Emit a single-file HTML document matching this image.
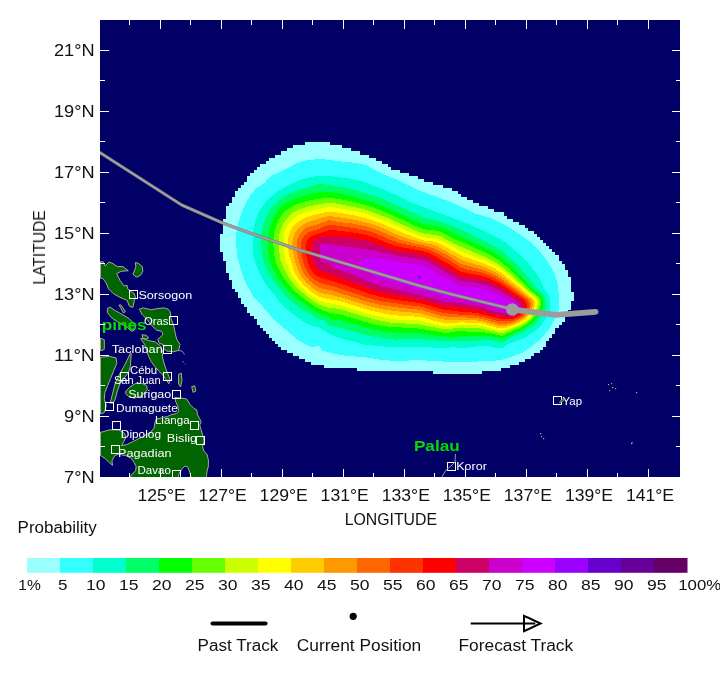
<!DOCTYPE html>
<html><head><meta charset="utf-8"><title>Strike probability</title><style>
html,body{margin:0;padding:0;background:#fff;}
body{width:720px;height:687px;overflow:hidden;position:relative;}
svg{position:absolute;left:0;top:0;display:block;will-change:transform;}
text{font-family:"Liberation Sans",sans-serif;}
</style></head><body>
<svg width="720" height="687" viewBox="0 0 720 687">
<defs><clipPath id="pc"><rect x="100" y="20" width="580" height="457"/></clipPath></defs>
<rect x="100" y="20" width="580" height="457" fill="#000066"/>
<g clip-path="url(#pc)">
<g shape-rendering="crispEdges"><path fill="#99ffff" d="M305.38,142.32H329.77V145.38H305.38ZM293.18,145.37H341.97V148.42H293.18ZM287.08,148.42H351.12V151.47H287.08ZM280.98,151.47H360.27V154.53H280.98ZM274.88,154.53H369.42V157.58H274.88ZM268.77,157.57H375.52V160.62H268.77ZM265.73,160.62H381.62V163.67H265.73ZM259.62,163.67H387.72V166.72H259.62ZM256.58,166.72H390.77V169.78H256.58ZM253.52,169.78H399.92V172.83H253.52ZM250.47,172.82H409.07V175.88H250.47ZM247.42,175.87H418.22V178.92H247.42ZM247.42,178.92H424.32V181.97H247.42ZM244.37,181.97H433.47V185.03H244.37ZM241.32,185.03H442.62V188.08H241.32ZM238.27,188.07H451.77V191.12H238.27ZM235.22,191.12H457.87V194.17H235.22ZM235.22,194.17H460.92V197.22H235.22ZM232.17,197.22H467.02V200.28H232.17ZM232.17,200.28H473.12V203.33H232.17ZM229.12,203.32H479.22V206.37H229.12ZM226.07,206.37H488.37V209.42H226.07ZM226.07,209.42H494.47V212.47H226.07ZM226.07,212.47H503.62V215.53H226.07ZM226.07,215.53H506.67V218.58H226.07ZM223.03,218.57H512.77V221.62H223.03ZM223.03,221.62H518.87V224.67H223.03ZM223.03,224.67H524.98V227.72H223.03ZM223.03,227.72H528.02V230.78H223.03ZM223.03,230.78H534.12V233.83H223.03ZM219.97,233.82H537.17V236.87H219.97ZM219.97,236.87H540.23V239.92H219.97ZM219.97,239.92H543.27V242.97H219.97ZM219.97,242.97H546.32V246.03H219.97ZM219.97,246.03H549.37V249.08H219.97ZM219.97,249.07H552.42V252.12H219.97ZM223.03,252.12H555.48V255.17H223.03ZM223.03,255.17H558.52V258.22H223.03ZM223.03,258.23H558.52V261.27H223.03ZM226.07,261.28H561.57V264.32H226.07ZM226.07,264.32H564.62V267.37H226.07ZM226.07,267.38H564.62V270.42H226.07ZM226.07,270.43H567.67V273.47H226.07ZM229.12,273.48H567.67V276.52H229.12ZM229.12,276.53H570.73V279.57H229.12ZM232.17,279.57H570.73V282.62H232.17ZM232.17,282.62H570.73V285.67H232.17ZM232.17,285.68H570.73V288.72H232.17ZM235.22,288.73H570.73V291.77H235.22ZM238.27,291.78H573.77V294.82H238.27ZM238.27,294.82H573.77V297.87H238.27ZM241.32,297.88H573.77V300.92H241.32ZM241.32,300.93H570.73V303.97H241.32ZM244.37,303.98H570.73V307.02H244.37ZM247.42,307.03H570.73V310.07H247.42ZM247.42,310.08H567.67V313.12H247.42ZM250.47,313.12H567.67V316.17H250.47ZM253.52,316.18H564.62V319.22H253.52ZM256.58,319.23H564.62V322.27H256.58ZM256.58,322.28H561.57V325.32H256.58ZM259.62,325.33H558.52V328.38H259.62ZM262.68,328.38H555.48V331.42H262.68ZM265.73,331.43H555.48V334.47H265.73ZM268.77,334.48H552.42V337.52H268.77ZM271.83,337.53H549.37V340.57H271.83ZM274.88,340.57H546.32V343.62H274.88ZM277.93,343.62H546.32V346.67H277.93ZM280.98,346.68H543.27V349.72H280.98ZM287.08,349.73H540.23V352.77H287.08ZM293.18,352.78H534.12V355.82H293.18ZM299.27,355.82H531.07V358.87H299.27ZM305.38,358.88H524.98V361.92H305.38ZM311.48,361.93H518.87V364.97H311.48ZM323.68,364.98H509.72V368.02H323.68ZM357.23,368.03H500.57V371.07H357.23ZM433.48,371.07H482.27V374.12H433.48Z"/>
<path fill="#33ffff" d="M477.5,361.5 492.5,361.0 503.4,359.5 507.5,358.4 522.6,352.5 533.0,345.5 542.5,337.2 550.1,327.5 557.7,313.5 559.4,307.5 559.0,296.5 557.6,283.5 555.0,275.5 550.0,265.5 544.5,257.0 535.4,246.5 526.0,238.5 507.5,226.5 490.5,218.0 475.5,213.5 451.5,202.3 420.5,191.0 396.5,179.5 383.7,174.5 366.7,165.5 357.5,163.1 335.5,160.9 321.5,158.8 308.5,160.0 301.5,161.4 295.5,163.7 285.5,169.5 272.5,175.4 267.4,179.5 263.5,183.7 256.5,188.1 251.5,193.9 246.0,202.5 242.3,210.5 238.7,221.5 236.3,233.5 236.0,238.5 236.8,254.5 242.1,273.5 246.4,284.5 250.5,290.5 253.1,296.5 260.5,304.1 274.0,319.5 297.3,339.5 304.5,344.0 310.5,346.9 313.5,346.9 318.5,345.5 319.5,346.0 321.2,349.5 322.5,350.6 334.5,353.9 346.5,355.9 365.5,357.2 379.5,359.5 394.5,361.1 418.5,360.1 451.5,362.0 470.5,362.1Z"/>
<path fill="#00ffcc" d="M502.9,347.5 508.5,343.7 524.5,337.9 535.5,330.7 541.5,324.6 545.6,318.5 549.5,311.2 550.5,305.5 549.8,297.5 549.1,295.5 543.6,287.5 539.5,278.0 532.5,268.1 526.5,261.1 513.2,248.5 506.5,243.1 499.5,238.6 483.5,230.9 461.5,221.2 411.5,202.6 385.5,190.2 361.5,181.1 346.5,178.1 327.5,176.0 319.5,175.8 310.5,176.9 301.5,179.6 286.5,186.0 277.3,191.5 266.9,200.5 260.3,209.5 257.4,215.5 254.9,222.5 253.3,229.5 252.6,235.5 253.4,254.5 254.6,260.5 256.7,266.5 260.8,275.5 265.9,284.5 279.5,301.8 285.1,307.5 294.5,315.4 307.5,323.9 311.3,325.5 319.5,327.7 328.5,333.3 336.5,337.2 365.5,344.8 386.5,346.8 399.5,347.2 417.5,346.9 439.5,347.8 454.5,347.4 465.5,347.9 482.5,345.9 489.5,346.4 497.5,348.4 500.5,348.3Z"/>
<path fill="#00ff66" d="M501.6,342.5 515.4,335.5 523.5,332.1 533.5,325.6 538.5,320.5 542.1,315.5 545.5,309.5 546.2,305.5 545.5,298.5 544.5,296.0 535.9,287.5 520.1,267.5 504.5,252.8 494.5,246.0 460.5,229.1 442.5,222.2 423.5,217.5 379.5,197.7 351.5,189.0 331.5,185.2 321.5,184.1 316.5,184.6 303.5,188.4 289.5,193.8 282.5,197.5 277.5,201.3 272.5,206.9 268.2,213.5 265.4,219.5 263.0,226.5 261.5,233.5 260.9,239.5 261.0,244.5 263.0,259.5 265.5,266.8 274.1,282.5 286.5,296.9 291.5,301.5 299.5,307.5 310.5,314.3 316.5,318.6 319.5,319.9 324.5,320.6 328.5,324.7 331.5,326.3 338.5,327.5 369.5,335.9 391.5,339.3 395.5,339.6 416.5,338.9 439.5,340.8 456.5,341.3 471.5,341.0 487.5,339.9 494.5,340.5 499.5,342.6Z"/>
<path fill="#00ff00" d="M501.6,338.5 504.5,337.6 522.5,329.1 532.5,322.4 537.5,317.0 541.5,310.5 543.2,305.5 543.1,300.5 542.1,297.5 540.6,295.5 532.9,289.5 511.5,266.2 500.5,256.7 490.5,250.4 441.9,227.5 427.5,224.9 419.5,222.7 382.5,205.9 372.5,202.0 350.5,195.9 334.5,192.6 325.5,191.9 318.5,192.3 305.5,195.3 293.5,199.4 286.5,202.7 282.6,205.5 277.5,211.4 273.7,217.5 269.4,228.5 267.4,240.5 269.3,259.5 271.9,266.5 279.9,280.5 290.2,292.5 301.5,302.1 318.6,313.5 326.5,316.1 331.5,319.4 341.5,320.5 369.1,328.5 383.5,331.5 395.5,332.6 419.5,333.1 439.5,336.0 454.5,336.9 462.5,336.0 486.5,335.8 495.5,336.9Z"/>
<path fill="#66ff00" d="M502.9,335.5 521.5,327.3 527.5,323.7 531.5,320.5 536.0,315.5 539.0,310.5 541.0,304.5 541.0,300.5 540.3,298.5 538.7,296.5 531.0,290.5 507.5,267.2 498.5,260.0 489.5,254.7 463.5,242.5 454.5,239.3 441.5,232.0 437.5,230.8 426.5,229.7 421.9,228.5 412.5,224.8 394.5,216.1 373.5,207.4 358.5,203.0 341.5,199.3 330.5,197.9 325.5,197.9 310.5,200.1 299.5,203.1 292.5,206.2 286.2,210.5 281.5,215.5 277.9,221.5 274.3,231.5 273.1,241.5 274.6,257.5 275.9,262.5 277.9,267.5 284.8,279.5 294.1,290.5 305.5,300.2 319.5,309.1 329.5,312.8 340.5,314.5 373.5,324.2 383.5,326.3 420.5,328.7 444.5,332.8 449.5,332.7 456.5,331.2 480.5,331.9 491.5,333.5 500.5,335.7Z"/>
<path fill="#ccff00" d="M504.0,332.5 520.5,325.7 525.5,322.8 529.8,319.5 534.3,314.5 537.2,309.5 538.8,304.5 538.9,300.5 536.5,297.0 529.4,291.5 505.5,269.7 497.5,263.7 488.5,258.6 453.5,243.5 440.5,236.3 435.5,235.0 425.5,233.9 419.5,232.3 385.5,217.1 365.5,209.5 335.5,203.3 329.5,202.8 320.5,204.0 308.4,206.5 299.5,209.3 293.5,212.4 289.5,215.5 285.5,220.1 282.5,225.1 279.5,234.3 278.9,243.5 279.3,251.5 280.4,259.5 283.9,268.5 290.2,279.5 297.8,288.5 308.2,297.5 319.5,304.7 328.5,307.5 339.5,308.9 373.5,319.2 387.5,322.1 395.5,323.2 416.5,323.9 445.5,329.4 449.5,329.3 457.5,327.6 479.5,328.2 499.5,332.9Z"/>
<path fill="#ffff00" d="M503.3,330.5 518.5,325.0 523.5,322.3 528.5,318.7 532.4,314.5 534.9,310.5 536.8,305.5 537.2,301.5 536.4,299.5 534.7,297.5 504.5,272.0 496.5,266.3 488.5,262.0 464.0,252.5 439.5,239.5 434.5,238.4 425.5,237.4 418.9,235.5 407.5,231.0 383.5,220.1 366.5,214.0 357.5,211.7 337.5,207.8 330.5,207.2 324.5,207.7 310.5,210.8 302.5,213.4 296.5,216.4 292.5,219.5 289.0,223.5 286.2,228.5 284.7,232.5 283.6,237.5 283.5,247.5 285.1,258.5 288.9,269.5 293.9,278.5 300.4,286.5 309.5,294.6 318.5,300.4 324.5,302.5 340.5,305.2 365.5,313.3 389.5,318.7 396.0,319.5 418.5,320.4 439.5,325.5 446.5,326.6 458.5,325.1 479.1,325.5 498.5,330.5Z"/>
<path fill="#ffcc00" d="M507.0,327.5 519.5,322.8 524.5,319.9 528.5,316.5 532.4,311.5 534.6,306.5 535.2,302.5 534.1,299.5 504.5,275.1 495.5,268.9 485.5,264.1 463.5,256.6 439.5,243.5 433.5,241.6 424.5,240.5 413.5,237.0 402.5,232.8 382.5,223.8 370.5,219.5 355.5,215.6 333.5,211.9 327.5,211.9 323.5,212.5 311.5,215.6 304.5,218.2 299.5,220.9 295.5,224.0 292.5,227.5 290.2,231.5 288.2,238.5 288.0,247.5 289.5,256.5 293.8,270.5 298.3,278.5 304.2,285.5 312.3,292.5 319.5,296.7 324.5,298.2 340.5,301.2 368.5,310.1 388.5,314.4 396.5,315.4 420.5,316.9 437.5,321.7 445.5,323.3 449.5,323.4 460.5,322.4 477.5,322.8 482.5,323.6 498.5,328.1 502.5,328.3Z"/>
<path fill="#ff9900" d="M507.0,325.5 513.5,323.7 518.8,321.5 523.5,318.7 527.5,315.4 530.5,311.5 532.7,306.5 533.1,302.5 531.8,299.5 504.5,278.1 494.5,271.5 483.5,266.6 463.5,260.9 437.5,246.4 431.8,244.5 417.8,241.5 404.7,237.5 396.7,234.5 380.5,227.1 369.5,223.3 354.5,219.7 330.5,216.1 323.5,217.0 305.5,223.1 298.5,228.0 295.8,231.5 294.2,234.5 292.3,241.5 292.3,248.5 294.8,260.5 297.6,269.5 301.4,276.5 306.3,282.5 313.1,288.5 319.5,292.4 342.5,297.7 368.5,306.0 383.5,309.5 396.5,311.3 419.5,313.1 438.5,318.5 445.5,319.9 476.5,320.4 482.5,321.3 498.5,325.8 502.5,326.1Z"/>
<path fill="#ff6600" d="M507.5,323.5 513.5,322.0 518.5,320.0 522.7,317.5 526.5,314.2 529.2,310.5 530.8,306.5 531.0,302.5 529.3,299.5 504.5,280.9 494.5,274.5 483.5,269.8 461.5,264.2 448.5,256.0 434.4,248.5 427.5,246.3 413.5,243.3 399.5,239.5 377.5,230.0 365.5,226.1 352.5,223.6 336.5,221.7 330.5,220.3 326.5,220.7 318.5,224.0 306.7,227.5 301.5,231.7 297.9,237.5 296.6,243.5 296.7,250.5 299.3,262.5 301.7,269.5 305.2,275.5 309.5,280.6 314.5,284.8 320.5,288.1 332.5,290.7 367.5,301.8 381.5,305.2 402.5,308.1 420.5,309.8 437.5,314.9 444.5,316.4 475.5,317.9 483.5,319.3 498.5,323.6 502.5,324.0Z"/>
<path fill="#ff3300" d="M508.1,321.5 513.5,320.3 518.5,318.3 522.5,315.7 525.8,312.5 528.3,308.5 529.1,305.5 528.7,302.5 526.5,299.3 503.5,282.9 493.5,276.9 482.5,272.6 466.5,269.3 460.5,267.4 449.5,260.3 431.3,250.5 424.5,248.3 398.5,242.9 391.5,240.4 375.5,233.4 366.5,230.5 356.5,228.4 330.5,224.8 326.7,225.5 320.0,228.5 308.5,232.2 304.5,235.4 302.0,239.5 300.9,243.5 300.9,248.5 302.8,260.5 305.0,267.5 307.8,272.5 311.5,277.1 315.5,280.4 320.5,283.1 334.5,286.7 366.5,297.4 380.5,301.1 404.5,304.7 421.5,306.7 436.5,311.4 443.5,312.9 455.5,314.4 474.5,315.4 484.5,317.3 499.5,321.4Z"/>
<path fill="#ff0000" d="M507.7,319.5 512.5,318.7 517.5,316.9 521.3,314.5 524.3,311.5 526.1,308.5 526.8,305.5 526.1,302.5 523.6,299.5 503.5,285.8 493.5,280.0 482.5,275.8 465.5,272.8 461.5,271.5 456.5,269.1 449.5,264.2 440.5,259.6 434.1,255.5 427.5,252.4 422.5,251.0 396.5,246.3 373.5,237.2 365.5,234.7 356.5,233.0 332.5,230.0 327.5,230.5 312.7,235.5 308.5,238.5 305.9,242.5 305.4,246.5 306.8,258.5 308.8,265.5 310.9,269.5 313.5,272.8 316.5,275.5 320.5,277.8 334.5,281.6 368.5,293.5 380.5,296.9 394.5,299.6 421.5,303.5 442.5,309.4 455.5,311.2 476.5,312.9 500.5,319.0Z"/>
<path fill="#cc0066" d="M512.8,316.5 516.5,315.2 519.5,313.4 521.6,311.5 523.4,308.5 523.9,305.5 523.4,303.5 522.0,301.5 518.5,298.7 500.5,287.2 489.5,281.7 480.5,279.0 464.5,276.8 459.5,275.4 445.5,266.6 439.3,263.5 430.5,258.0 425.5,255.7 419.5,254.2 394.5,250.4 366.5,240.4 358.5,239.1 337.5,236.9 324.5,236.7 320.5,237.4 317.5,238.5 314.5,240.5 312.2,243.5 311.7,247.5 312.6,258.5 313.7,263.5 316.5,268.1 321.5,271.3 329.5,273.3 360.5,285.4 373.5,289.9 382.5,292.4 425.5,300.9 442.5,305.7 454.5,306.5 465.5,308.4 479.5,310.0 492.5,314.1 504.5,316.9 508.5,317.1Z"/>
<path fill="#cc00cc" d="M514.1,313.5 517.5,311.7 519.5,309.8 520.6,307.5 520.5,305.3 519.5,303.5 517.5,301.6 507.5,295.3 495.1,288.5 485.5,284.6 477.5,282.9 463.5,281.4 458.5,279.9 441.2,269.5 424.5,260.3 418.5,258.9 401.5,256.6 371.5,249.8 325.5,243.8 321.5,244.2 320.0,245.5 319.6,247.5 320.1,256.5 320.7,260.5 321.5,261.8 323.5,262.7 329.5,263.5 335.5,268.7 349.5,273.2 367.6,281.5 382.5,286.3 429.5,297.4 444.5,301.9 457.5,302.6 480.5,306.7 495.3,311.5 505.5,313.9 509.5,314.3Z"/>
<path fill="#cc00ff" d="M513.7,310.5 515.5,309.4 516.8,307.5 516.5,305.6 515.6,304.5 511.1,301.5 497.7,294.5 488.6,290.5 481.8,288.5 474.8,287.5 463.5,287.0 458.5,285.7 449.5,280.1 441.5,276.2 426.5,267.2 422.5,265.4 417.5,264.4 402.5,263.1 383.5,259.3 374.5,258.1 368.5,258.1 363.5,259.0 361.5,259.7 359.8,261.5 359.6,263.5 360.8,265.5 364.5,267.8 370.4,273.5 375.5,276.4 381.0,278.5 399.5,283.0 417.5,289.0 433.5,292.8 448.5,298.5 450.5,298.7 457.5,297.8 461.5,298.2 479.5,303.2 486.5,304.6 500.5,309.6 509.5,311.2Z"/>
<path fill="#9900ff" d="M420.8,278.5 421.3,277.5 420.5,275.8 418.5,275.3 417.5,276.0 417.3,277.5 418.1,278.5 419.5,279.0Z"/></g>
<g fill="#006400" stroke="#b0a4a4" stroke-width="1" stroke-linejoin="round"><path d="M100.0,262.0 103.0,261.5 105.0,266.0 109.0,262.0 113.1,263.7 117.2,266.6 123.0,266.6 128.3,270.7 121.3,271.3 116.6,273.6 120.1,280.6 124.2,285.9 127.1,285.3 127.7,288.8 130.6,291.1 134.1,293.4 135.3,296.9 134.1,301.6 132.9,307.4 129.4,306.2 127.1,300.4 119.0,296.9 113.1,293.4 108.5,288.8 106.2,283.0 102.7,278.3 100.5,278.3 100.5,262.0Z"/><path d="M135.3,262.6 138.2,263.2 142.3,266.6 142.8,271.3 140.5,275.4 136.4,277.1 132.9,274.2 134.7,270.1 135.8,266.6Z"/><path d="M139.4,309.2 143.3,307.9 151.2,309.8 157.8,308.5 164.3,307.9 168.2,309.2 170.2,311.8 170.9,318.3 173.5,324.9 175.4,334.1 176.7,339.3 180.0,344.5 178.7,350.4 173.5,351.7 166.9,351.1 163.6,348.5 163.0,344.5 159.1,343.2 157.8,339.3 163.0,334.7 161.7,331.4 156.4,330.1 151.2,324.9 147.3,319.7 142.0,314.4Z"/><path d="M140.7,338.6 144.7,344.5 146.6,351.1 148.6,356.3 151.2,361.6 155.1,366.8 159.1,371.4 163.0,375.3 166.3,379.9 168.9,383.8 170.2,379.9 168.2,374.7 165.6,368.1 163.6,361.6 162.3,356.3 163.0,352.4 160.4,345.9 155.1,341.9 148.6,340.6 143.3,338.6Z"/><path d="M142.0,334.7 146.6,335.4 148.6,338.0 146.0,339.3 142.7,338.0Z"/><path d="M107.4,308.3 110.5,307.3 114.7,310.4 118.8,312.5 124.0,315.6 129.3,318.8 132.4,321.9 135.5,326.0 134.5,330.2 131.3,331.3 127.2,327.1 120.9,324.0 114.7,319.8 110.5,316.7 107.4,312.5Z"/><path d="M119.0,305.0 121.0,305.0 125.5,311.5 123.5,313.0Z"/><path d="M100.5,338.3 100.8,338.3 104.3,339.7 104.3,349.4 100.8,350.8 100.5,350.8Z"/><path d="M100.5,357.1 102.2,357.1 109.1,356.4 116.0,357.8 116.8,363.3 113.3,371.7 110.5,378.6 107.7,385.6 104.9,392.5 104.3,399.4 106.3,405.6 104.3,412.5 100.8,413.9 100.5,413.9Z"/><path d="M130.5,353.2 124.4,365.5 120.4,372.6 115.3,382.8 113.2,391.0 111.2,399.0 110.2,403.1 113.2,403.1 115.3,399.0 117.3,391.0 120.4,382.8 125.0,377.0 128.5,372.6 130.5,365.5 131.2,353.2Z"/><path d="M125.8,391.1 130.0,386.9 135.5,383.5 142.4,383.5 146.6,385.6 147.3,389.7 143.8,393.9 139.7,396.7 134.1,398.1 128.6,396.7 125.8,393.9Z"/><path d="M178.6,374.4 181.3,373.1 182.0,380.0 180.6,386.9 178.6,384.2Z"/><path d="M191.7,386.6 194.6,385.8 196.0,390.9 193.1,392.4Z"/><path d="M174.9,397.5 182.2,398.2 186.6,398.9 190.2,404.7 193.9,408.4 196.8,409.8 197.5,414.9 199.7,418.6 201.1,422.2 199.7,425.1 201.1,429.5 202.6,435.3 204.0,441.1 202.6,447.0 204.0,451.3 207.0,454.2 208.4,460.1 208.4,465.9 207.0,471.7 206.2,478.0 191.0,478.0 190.4,474.0 188.0,467.3 185.1,465.9 182.2,468.8 179.3,473.2 177.8,478.0 130.0,478.0 131.3,475.0 135.5,470.8 136.2,466.7 134.1,462.5 131.3,458.3 125.8,455.6 118.8,454.2 114.7,455.6 111.9,461.1 112.6,465.3 109.1,462.5 104.9,458.3 100.8,455.6 100.5,455.6 100.5,432.0 102.2,432.0 109.1,429.9 118.8,429.9 124.4,433.3 125.8,437.5 123.7,441.7 121.6,445.8 127.2,444.4 132.7,441.7 138.3,438.9 143.8,436.1 150.8,432.0 154.3,427.8 154.6,423.7 156.0,419.3 161.8,417.8 167.7,416.4 170.6,414.9 176.4,413.5 178.6,411.3 177.8,406.2 175.7,401.8Z"/></g>
<path d="M99,152 181.7,205 223.3,223.3 253.3,234.2 280,243.3 290,247.1 330,259 420,285.9 450,293.9 506,307.6 512.3,309.5" fill="none" stroke="#7a7a7a" stroke-width="3.2" stroke-linejoin="round"/><path d="M99,152 181.7,205 223.3,223.3 253.3,234.2 280,243.3 290,247.1 330,259 420,285.9 450,293.9 506,307.6 512.3,309.5" fill="none" stroke="#a0a0a0" stroke-width="2" stroke-linejoin="round"/><path d="M512.3,309.5 530.6,311.8 545.8,313.6 556.5,314.9 595.5,311.8" fill="none" stroke="#9c9c9c" stroke-width="5.8" stroke-linecap="round" stroke-linejoin="round"/><circle cx="512.3" cy="309.5" r="6.3" fill="#9c9c9c"/>
<g fill="none" stroke="#fff" stroke-width="1" shape-rendering="crispEdges">
<rect x="129.5" y="290.5" width="8" height="8"/>
<rect x="169.5" y="316.5" width="8" height="8"/>
<rect x="163.5" y="345.5" width="8" height="8"/>
<rect x="120.5" y="372.5" width="8" height="8"/>
<rect x="163.5" y="372.5" width="8" height="8"/>
<rect x="172.5" y="390.5" width="8" height="8"/>
<rect x="105.5" y="402.5" width="8" height="8"/>
<rect x="190.5" y="421.5" width="8" height="8"/>
<rect x="112.5" y="421.5" width="8" height="8"/>
<rect x="196.5" y="436.5" width="8" height="8"/>
<rect x="111.5" y="445.5" width="8" height="8"/>
<rect x="172.5" y="470.5" width="8" height="8"/>
<rect x="447.5" y="462.5" width="8" height="8"/>
<rect x="553.5" y="396.5" width="8" height="8"/>
</g><g fill="#fff">
<text x="138.5" y="298.6" font-size="10" fill="#fff" textLength="53.7" lengthAdjust="spacingAndGlyphs">Sorsogon</text>
<text x="143.9" y="324.8" font-size="10" fill="#fff" textLength="24.4" lengthAdjust="spacingAndGlyphs">Oras</text>
<text x="111.7" y="352.6" font-size="10" fill="#fff" textLength="51.1" lengthAdjust="spacingAndGlyphs">Tacloban</text>
<text x="130.0" y="373.9" font-size="10" fill="#fff" textLength="27.2" lengthAdjust="spacingAndGlyphs">Cébu</text>
<text x="113.9" y="383.9" font-size="10" fill="#fff" textLength="46.7" lengthAdjust="spacingAndGlyphs">San Juan</text>
<text x="128.3" y="398.3" font-size="10" fill="#fff" textLength="42.8" lengthAdjust="spacingAndGlyphs">Surigao</text>
<text x="116.0" y="411.8" font-size="10" fill="#fff" textLength="61.8" lengthAdjust="spacingAndGlyphs">Dumaguete</text>
<text x="154.9" y="423.6" font-size="10" fill="#fff" textLength="34.7" lengthAdjust="spacingAndGlyphs">Lianga</text>
<text x="120.8" y="438.2" font-size="10" fill="#fff" textLength="40.3" lengthAdjust="spacingAndGlyphs">Dipolog</text>
<text x="166.7" y="441.7" font-size="10" fill="#fff" textLength="30.5" lengthAdjust="spacingAndGlyphs">Bislig</text>
<text x="118.1" y="456.7" font-size="10" fill="#fff" textLength="53.4" lengthAdjust="spacingAndGlyphs">Pagadian</text>
<text x="137.5" y="474.4" font-size="10" fill="#fff" textLength="33.3" lengthAdjust="spacingAndGlyphs">Davao</text>
<text x="456.3" y="469.7" font-size="10" fill="#fff" textLength="30.5" lengthAdjust="spacingAndGlyphs">Koror</text>
<text x="562.5" y="404.7" font-size="10" fill="#fff" textLength="19.5" lengthAdjust="spacingAndGlyphs">Yap</text>
</g>
<text x="101.7" y="330.3" font-size="15" fill="#00dd00" textLength="45.0" lengthAdjust="spacingAndGlyphs" font-weight="bold">pines</text>
<text x="413.9" y="451.3" font-size="15" fill="#00dd00" textLength="45.8" lengthAdjust="spacingAndGlyphs" font-weight="bold">Palau</text>
<path d="M559.5,403 L561,400 L563.5,398.5 L564.5,400 L562,402 Z" fill="#2a8a2a" stroke="#9aa89a" stroke-width="0.6"/>
<path d="M178.3,350.6 L182,351 L184.6,354.6M182.4,361.8h1.4M184.8,364.2h0.8M119.5,348.5 L121,351" fill="none" stroke="#a89c9c" stroke-width="0.9"/>
<path d="M455.5,454 L455,462 L451,466 L446,470 L443,475 L442,477" fill="none" stroke="#8c9c8c" stroke-width="1"/>
<rect x="608" y="384" width="1.2" height="1.2" fill="#a0a890"/>
<rect x="611" y="383" width="1.2" height="1.2" fill="#a0a890"/>
<rect x="612" y="387" width="1.2" height="1.2" fill="#a0a890"/>
<rect x="609" y="390" width="1.2" height="1.2" fill="#a0a890"/>
<rect x="615" y="388" width="1.2" height="1.2" fill="#a0a890"/>
<rect x="636" y="392" width="1.2" height="1.2" fill="#a0a890"/>
<rect x="540" y="433" width="1.2" height="1.2" fill="#a0a890"/>
<rect x="541" y="436" width="1.2" height="1.2" fill="#a0a890"/>
<rect x="543" y="438" width="1.2" height="1.2" fill="#a0a890"/>
<rect x="631" y="443" width="1.2" height="1.2" fill="#a0a890"/>
<rect x="631.5" y="442" width="1.2" height="1.2" fill="#a0a890"/>
</g>
<path stroke="#fff" stroke-width="1" fill="none" d="M129.5,477v-4M129.5,20v5M160.5,477v-8M160.5,20v9M190.5,477v-4M190.5,20v5M221.5,477v-8M221.5,20v9M251.5,477v-4M251.5,20v5M282.5,477v-8M282.5,20v9M312.5,477v-4M312.5,20v5M343.5,477v-8M343.5,20v9M373.5,477v-4M373.5,20v5M404.5,477v-8M404.5,20v9M434.5,477v-4M434.5,20v5M465.5,477v-8M465.5,20v9M495.5,477v-4M495.5,20v5M526.5,477v-8M526.5,20v9M556.5,477v-4M556.5,20v5M587.5,477v-8M587.5,20v9M617.5,477v-4M617.5,20v5M648.5,477v-8M648.5,20v9M100,446.5h5M680,446.5h-4M100,416.5h9M680,416.5h-8M100,385.5h5M680,385.5h-4M100,355.5h9M680,355.5h-8M100,324.5h5M680,324.5h-4M100,294.5h9M680,294.5h-8M100,263.5h5M680,263.5h-4M100,233.5h9M680,233.5h-8M100,202.5h5M680,202.5h-4M100,172.5h9M680,172.5h-8M100,141.5h5M680,141.5h-4M100,111.5h9M680,111.5h-8M100,80.5h5M680,80.5h-4M100,50.5h9M680,50.5h-8"/>
<text x="54.0" y="55.9" font-size="16.5" fill="#111" textLength="40.6" lengthAdjust="spacingAndGlyphs">21°N</text>
<text x="54.0" y="116.9" font-size="16.5" fill="#111" textLength="40.6" lengthAdjust="spacingAndGlyphs">19°N</text>
<text x="54.0" y="177.9" font-size="16.5" fill="#111" textLength="40.6" lengthAdjust="spacingAndGlyphs">17°N</text>
<text x="54.0" y="238.9" font-size="16.5" fill="#111" textLength="40.6" lengthAdjust="spacingAndGlyphs">15°N</text>
<text x="54.0" y="299.9" font-size="16.5" fill="#111" textLength="40.6" lengthAdjust="spacingAndGlyphs">13°N</text>
<text x="54.0" y="360.9" font-size="16.5" fill="#111" textLength="40.6" lengthAdjust="spacingAndGlyphs">11°N</text>
<text x="64.0" y="421.9" font-size="16.5" fill="#111" textLength="30.6" lengthAdjust="spacingAndGlyphs">9°N</text>
<text x="64.0" y="482.9" font-size="16.5" fill="#111" textLength="30.6" lengthAdjust="spacingAndGlyphs">7°N</text>
<text x="137.5" y="501.0" font-size="16.5" fill="#111" textLength="48.2" lengthAdjust="spacingAndGlyphs">125°E</text>
<text x="198.6" y="501.0" font-size="16.5" fill="#111" textLength="48.2" lengthAdjust="spacingAndGlyphs">127°E</text>
<text x="259.6" y="501.0" font-size="16.5" fill="#111" textLength="48.2" lengthAdjust="spacingAndGlyphs">129°E</text>
<text x="320.6" y="501.0" font-size="16.5" fill="#111" textLength="48.2" lengthAdjust="spacingAndGlyphs">131°E</text>
<text x="381.7" y="501.0" font-size="16.5" fill="#111" textLength="48.2" lengthAdjust="spacingAndGlyphs">133°E</text>
<text x="442.7" y="501.0" font-size="16.5" fill="#111" textLength="48.2" lengthAdjust="spacingAndGlyphs">135°E</text>
<text x="503.8" y="501.0" font-size="16.5" fill="#111" textLength="48.2" lengthAdjust="spacingAndGlyphs">137°E</text>
<text x="564.9" y="501.0" font-size="16.5" fill="#111" textLength="48.2" lengthAdjust="spacingAndGlyphs">139°E</text>
<text x="625.9" y="501.0" font-size="16.5" fill="#111" textLength="48.2" lengthAdjust="spacingAndGlyphs">141°E</text>
<text x="344.7" y="525.0" font-size="16" fill="#111" textLength="92.3" lengthAdjust="spacingAndGlyphs">LONGITUDE</text>
<text transform="translate(45,284.7) rotate(-90)" font-size="16" fill="#111" textLength="74.5" lengthAdjust="spacingAndGlyphs">LATITUDE</text>
<text x="17.6" y="532.5" font-size="16" fill="#111" textLength="79.2" lengthAdjust="spacingAndGlyphs">Probability</text>
<rect x="27" y="558" width="33.5" height="14.8" fill="#99ffff"/>
<rect x="60" y="558" width="33.5" height="14.8" fill="#33ffff"/>
<rect x="93" y="558" width="33.5" height="14.8" fill="#00ffcc"/>
<rect x="126" y="558" width="33.5" height="14.8" fill="#00ff66"/>
<rect x="159" y="558" width="33.5" height="14.8" fill="#00ff00"/>
<rect x="192" y="558" width="33.5" height="14.8" fill="#66ff00"/>
<rect x="225" y="558" width="33.5" height="14.8" fill="#ccff00"/>
<rect x="258" y="558" width="33.5" height="14.8" fill="#ffff00"/>
<rect x="291" y="558" width="33.5" height="14.8" fill="#ffcc00"/>
<rect x="324" y="558" width="33.5" height="14.8" fill="#ff9900"/>
<rect x="357" y="558" width="33.5" height="14.8" fill="#ff6600"/>
<rect x="390" y="558" width="33.5" height="14.8" fill="#ff3300"/>
<rect x="423" y="558" width="33.5" height="14.8" fill="#ff0000"/>
<rect x="456" y="558" width="33.5" height="14.8" fill="#cc0066"/>
<rect x="489" y="558" width="33.5" height="14.8" fill="#cc00cc"/>
<rect x="522" y="558" width="33.5" height="14.8" fill="#cc00ff"/>
<rect x="555" y="558" width="33.5" height="14.8" fill="#9900ff"/>
<rect x="588" y="558" width="33.5" height="14.8" fill="#6600cc"/>
<rect x="621" y="558" width="33.5" height="14.8" fill="#660099"/>
<rect x="654" y="558" width="33.5" height="14.8" fill="#660066"/>
<text x="18.3" y="590.0" font-size="15.5" fill="#111" textLength="22.5" lengthAdjust="spacingAndGlyphs">1%</text>
<text x="58.0" y="590.0" font-size="15.5" fill="#111" textLength="9.5" lengthAdjust="spacingAndGlyphs">5</text>
<text x="86.0" y="590.0" font-size="15.5" fill="#111" textLength="19.5" lengthAdjust="spacingAndGlyphs">10</text>
<text x="118.9" y="590.0" font-size="15.5" fill="#111" textLength="19.5" lengthAdjust="spacingAndGlyphs">15</text>
<text x="151.9" y="590.0" font-size="15.5" fill="#111" textLength="19.5" lengthAdjust="spacingAndGlyphs">20</text>
<text x="184.9" y="590.0" font-size="15.5" fill="#111" textLength="19.5" lengthAdjust="spacingAndGlyphs">25</text>
<text x="217.9" y="590.0" font-size="15.5" fill="#111" textLength="19.5" lengthAdjust="spacingAndGlyphs">30</text>
<text x="250.9" y="590.0" font-size="15.5" fill="#111" textLength="19.5" lengthAdjust="spacingAndGlyphs">35</text>
<text x="283.9" y="590.0" font-size="15.5" fill="#111" textLength="19.5" lengthAdjust="spacingAndGlyphs">40</text>
<text x="316.9" y="590.0" font-size="15.5" fill="#111" textLength="19.5" lengthAdjust="spacingAndGlyphs">45</text>
<text x="349.9" y="590.0" font-size="15.5" fill="#111" textLength="19.5" lengthAdjust="spacingAndGlyphs">50</text>
<text x="382.9" y="590.0" font-size="15.5" fill="#111" textLength="19.5" lengthAdjust="spacingAndGlyphs">55</text>
<text x="415.9" y="590.0" font-size="15.5" fill="#111" textLength="19.5" lengthAdjust="spacingAndGlyphs">60</text>
<text x="448.9" y="590.0" font-size="15.5" fill="#111" textLength="19.5" lengthAdjust="spacingAndGlyphs">65</text>
<text x="481.9" y="590.0" font-size="15.5" fill="#111" textLength="19.5" lengthAdjust="spacingAndGlyphs">70</text>
<text x="515.0" y="590.0" font-size="15.5" fill="#111" textLength="19.5" lengthAdjust="spacingAndGlyphs">75</text>
<text x="548.0" y="590.0" font-size="15.5" fill="#111" textLength="19.5" lengthAdjust="spacingAndGlyphs">80</text>
<text x="581.0" y="590.0" font-size="15.5" fill="#111" textLength="19.5" lengthAdjust="spacingAndGlyphs">85</text>
<text x="614.0" y="590.0" font-size="15.5" fill="#111" textLength="19.5" lengthAdjust="spacingAndGlyphs">90</text>
<text x="647.0" y="590.0" font-size="15.5" fill="#111" textLength="19.5" lengthAdjust="spacingAndGlyphs">95</text>
<text x="678.2" y="590.0" font-size="15.5" fill="#111" textLength="43.0" lengthAdjust="spacingAndGlyphs">100%</text>
<line x1="212.6" y1="623.5" x2="265.5" y2="623.5" stroke="#000" stroke-width="4.2" stroke-linecap="round"/>
<text x="197.6" y="650.6" font-size="16" fill="#111" textLength="80.6" lengthAdjust="spacingAndGlyphs">Past Track</text>
<circle cx="353.2" cy="616.3" r="3.6" fill="#000"/>
<text x="296.8" y="650.7" font-size="16" fill="#111" textLength="124.4" lengthAdjust="spacingAndGlyphs">Current Position</text>
<line x1="470.7" y1="623.5" x2="535.3" y2="623.5" stroke="#000" stroke-width="2"/>
<path d="M524,615.8 L540.5,623.5 L524,631.2 Z" fill="none" stroke="#000" stroke-width="2" stroke-linejoin="miter"/>
<text x="458.5" y="650.7" font-size="16" fill="#111" textLength="114.7" lengthAdjust="spacingAndGlyphs">Forecast Track</text>
</svg>
</body></html>
